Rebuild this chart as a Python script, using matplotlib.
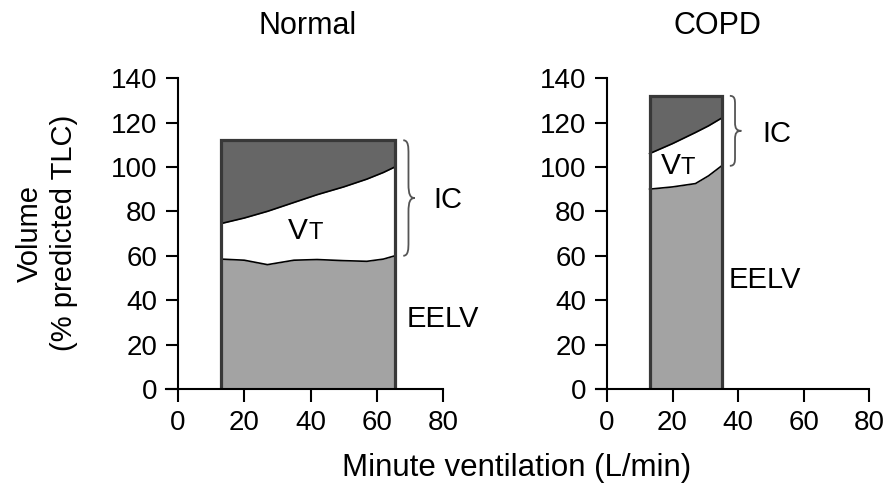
import numpy as np
import matplotlib
matplotlib.use('Agg')
import matplotlib.pyplot as plt
from matplotlib.path import Path
from matplotlib.patches import PathPatch

plt.rcParams['font.family'] = ['Liberation Sans', 'DejaVu Sans']

# ***Data***
# Normal subject
normal_ve = [13, 20, 27, 35, 42, 50, 57, 62, 65.5]
normal_eilv = [74.5, 77, 80, 84, 87.5, 91, 94.5, 97.5, 100]
normal_eelv = [58.5, 58, 56, 58, 58.3, 57.8, 57.5, 58.5, 60]
normal_tlc = 112

# COPD patient
copd_ve = [13, 20, 27, 31, 35]
copd_eilv = [106, 110.5, 115.5, 118.5, 122]
copd_eelv = [90, 91, 92.5, 96, 100.5]
copd_tlc = 132

titles = ['Normal', 'COPD']
x_ticks = [0, 20, 40, 60, 80]
y_ticks = [0, 20, 40, 60, 80, 100, 120, 140]

dark = '#666666'
light = '#a3a3a3'


def brace(ax, x0, y0, y1, w):
    # curly brace standing upright, tip pointing right
    h = y1 - y0
    m = (y0 + y1) / 2
    xm = x0 + w * 0.45
    c = h * 0.06
    verts = [(x0, y1), (xm, y1), (xm, y1 - c), (xm, y1 - 2 * c),
             (xm, m + 2 * c),
             (xm, m + 0.5 * c), (x0 + w * 0.6, m), (x0 + w, m),
             (x0 + w * 0.6, m), (xm, m - 0.5 * c), (xm, m - 2 * c),
             (xm, y0 + 2 * c),
             (xm, y0 + c), (xm, y0), (x0, y0)]
    codes = [Path.MOVETO] + [Path.CURVE4] * 3 + [Path.LINETO] + \
        [Path.CURVE4] * 6 + [Path.LINETO] + [Path.CURVE4] * 3
    ax.add_patch(PathPatch(Path(verts, codes), fill=False, lw=1.3,
                           edgecolor='#555555', clip_on=False))


def vt_label(ax, x, y):
    ax.text(x, y, 'V', fontsize=21.5, ha='right', va='baseline')
    ax.text(x, y, 'T', fontsize=17, ha='left', va='baseline')


def panel(ax, ve, eilv, eelv, tlc):
    ve = np.array(ve)
    ax.fill_between(ve, 0, eelv, color=light, lw=0)
    ax.fill_between(ve, eelv, eilv, color='white', lw=0)
    ax.fill_between(ve, eilv, tlc, color=dark, lw=0)
    ax.plot(ve, eelv, color='black', lw=1.2)
    ax.plot(ve, eilv, color='black', lw=1.2)
    # outline of the box
    ax.plot([ve[0], ve[0], ve[-1], ve[-1]], [0, tlc, tlc, 0],
            color='#383838', lw=2.3, solid_joinstyle='miter')

    ax.set_xlim(-3.5, 80)
    ax.set_ylim(0, 140)
    ax.set_xticks(x_ticks)
    ax.set_yticks(y_ticks)
    ax.spines['left'].set_position(('data', 0))
    for s in ['top', 'right']:
        ax.spines[s].set_visible(False)
    for s in ['left', 'bottom']:
        ax.spines[s].set_linewidth(1.5)
    ax.tick_params(direction='out', length=9, width=1.5, pad=6,
                   labelsize=20)
    ax.patch.set_alpha(0)


fig = plt.figure(figsize=(8.91, 4.92), dpi=100)
ax1 = fig.add_axes([0.1868, 0.2093, 0.3104, 0.632])
ax2 = fig.add_axes([0.6684, 0.2093, 0.307, 0.632])

panel(ax1, normal_ve, normal_eilv, normal_eelv, normal_tlc)
panel(ax2, copd_ve, copd_eilv, copd_eelv, copd_tlc)

# Normal annotations
vt_label(ax1, 39.3, 67.5)
brace(ax1, normal_ve[-1] + 2.5, normal_eelv[-1], normal_tlc, 3.5)
ax1.text(77, 85, 'IC', fontsize=21, ha='left', va='center')
ax1.text(69, 31.5, 'EELV', fontsize=21, ha='left', va='center')

# COPD annotations
vt_label(ax2, 22.5, 96.6)
brace(ax2, copd_ve[-1] + 2.5, copd_eelv[-1], copd_tlc, 3.5)
ax2.text(47.3, 115, 'IC', fontsize=21, ha='left', va='center')
ax2.text(37, 49, 'EELV', fontsize=21, ha='left', va='center')

fig.text(307.5 / 891, 1 - 26 / 492, titles[0], fontsize=22,
         ha='center', va='center')
fig.text(717 / 891, 1 - 26 / 492, titles[1], fontsize=22,
         ha='center', va='center')
fig.text(517 / 891, 1 - 468 / 492, 'Minute ventilation (L/min)',
         fontsize=22.5, ha='center', va='center')
fig.text(47 / 891, 1 - 233 / 492, 'Volume\n(% predicted TLC)',
         fontsize=21, rotation=90, ha='center', va='center',
         multialignment='center', linespacing=1.25)

fig.savefig('out.png', dpi=100)
